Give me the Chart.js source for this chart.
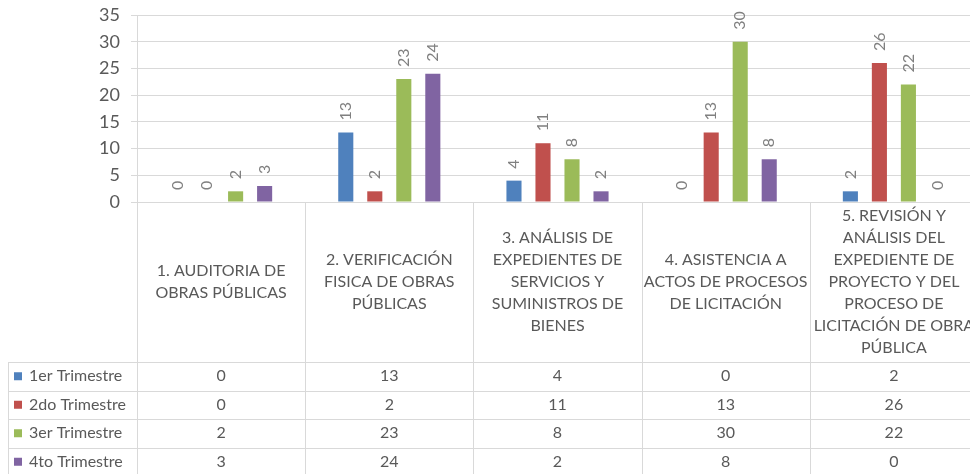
<!DOCTYPE html>
<html>
<head>
<meta charset="utf-8">
<script src="https://cdn.jsdelivr.net/npm/chart.js@4.4.1/dist/chart.umd.min.js"></script>
<style>
  html, body { margin: 0; padding: 0; background: #fff; overflow: hidden; }
  #wrap { position: relative; width: 980px; height: 474px; }
</style>
</head>
<body>
<div id="wrap"><canvas id="chart" width="980" height="474"></canvas></div>
<script>
// categories (wrapped the way the table header shows them)
const categories = [
    ["1. AUDITORIA DE", "OBRAS PÚBLICAS"],
    ["2. VERIFICACIÓN", "FISICA DE OBRAS", "PÚBLICAS"],
    ["3. ANÁLISIS DE", "EXPEDIENTES DE", "SERVICIOS Y", "SUMINISTROS DE", "BIENES"],
    ["4. ASISTENCIA A", "ACTOS DE PROCESOS", "DE LICITACIÓN"],
    ["5. REVISIÓN Y", "ANÁLISIS DEL", "EXPEDIENTE DE", "PROYECTO Y DEL", "PROCESO DE", "LICITACIÓN DE OBRA", "PÚBLICA"]
];

const seriesNames = ["1er Trimestre", "2do Trimestre", "3er Trimestre", "4to Trimestre"];
const trimestre1 = [0, 13, 4, 0, 2];
const trimestre2 = [0, 2, 11, 13, 26];
const trimestre3 = [2, 23, 8, 30, 22];
const trimestre4 = [3, 24, 2, 8, 0];
const seriesColors = ["#4F81BD", "#C0504D", "#9BBB59", "#8064A2"];

const yMax = 35;
const yStep = 5;

const FONT = "Lato, 'Open Sans', sans-serif";
const FONT_SIZE = 16;
const GRID = "#D9D9D9";

// value labels, rotated, above each bar
const barLabels = {
    id: "barLabels",
    afterDatasetsDraw(chart) {
        const ctx = chart.ctx;
        ctx.save();
        ctx.font = FONT_SIZE + "px " + FONT;
        ctx.fillStyle = "#808080";
        ctx.textAlign = "left";
        ctx.textBaseline = "middle";
        chart.data.datasets.forEach((ds, i) => {
            chart.getDatasetMeta(i).data.forEach((bar, j) => {
                ctx.save();
                ctx.translate(bar.x, bar.y - 12);
                ctx.rotate(-Math.PI / 2);
                ctx.fillText(String(ds.data[j]), 0, 0);
                ctx.restore();
            });
        });
        ctx.restore();
    }
};

// Excel-style data table under the plot
const dataTable = {
    id: "dataTable",
    afterDraw(chart) {
        const ctx = chart.ctx;
        const xs = chart.scales.x;
        const area = chart.chartArea;
        const colW = (area.right - area.left) / categories.length;
        const top = area.bottom;
        const headBottom = 362;
        const rowH = 28.5;
        const legendLeft = 8;
        const nRows = chart.data.datasets.length;
        const bottom = headBottom + rowH * nRows;

        ctx.save();
        ctx.strokeStyle = GRID;
        ctx.lineWidth = 1;
        ctx.beginPath();
        // vertical lines
        for (let i = 0; i <= categories.length; i++) {
            const x = Math.round(area.left + i * colW) + 0.5;
            ctx.moveTo(x, top);
            ctx.lineTo(x, bottom);
        }
        ctx.moveTo(legendLeft + 0.5, headBottom);
        ctx.lineTo(legendLeft + 0.5, bottom);
        // horizontal lines
        for (let r = 0; r <= nRows; r++) {
            const y = Math.round(headBottom + r * rowH) + 0.5;
            ctx.moveTo(legendLeft, y);
            ctx.lineTo(area.right, y);
        }
        ctx.stroke();

        ctx.font = FONT_SIZE + "px " + FONT;
        ctx.fillStyle = "#595959";
        ctx.textAlign = "center";
        ctx.textBaseline = "middle";

        // header labels
        const lineH = 22;
        const midHead = (top + headBottom) / 2;
        categories.forEach((lines, i) => {
            const cx = xs.getPixelForValue(i);
            const y0 = midHead - (lines.length - 1) * lineH / 2;
            lines.forEach((t, k) => ctx.fillText(t, cx, y0 + k * lineH));
        });

        // rows
        chart.data.datasets.forEach((ds, r) => {
            const cy = headBottom + rowH * r + rowH / 2;
            ctx.fillStyle = ds.backgroundColor;
            ctx.fillRect(14, cy - 4, 8, 8);
            ctx.fillStyle = "#595959";
            ctx.textAlign = "left";
            ctx.fillText(ds.label, 29, cy);
            ctx.textAlign = "center";
            ds.data.forEach((v, j) => ctx.fillText(String(v), xs.getPixelForValue(j), cy));
        });
        ctx.restore();
    }
};

const seriesData = [trimestre1, trimestre2, trimestre3, trimestre4];

new Chart(document.getElementById("chart"), {
    type: "bar",
    data: {
        labels: categories,
        datasets: seriesNames.map((name, i) => ({
            label: name,
            data: seriesData[i],
            backgroundColor: seriesColors[i],
            borderWidth: 0,
            categoryPercentage: 0.69,
            barPercentage: 0.52
        }))
    },
    options: {
        responsive: false,
        animation: false,
        devicePixelRatio: 1,
        layout: { padding: { top: 15, right: 2, bottom: 272, left: 0 } },
        plugins: {
            legend: { display: false },
            tooltip: { enabled: false }
        },
        scales: {
            x: {
                display: false,
                offset: true
            },
            y: {
                min: 0,
                max: yMax,
                afterFit(scale) {
                    scale.width = 137;
                    scale.paddingTop = 0;
                    scale.paddingBottom = 0;
                },
                ticks: {
                    stepSize: yStep,
                    padding: 11,
                    color: "#595959",
                    font: { family: FONT, size: FONT_SIZE + 2 }
                },
                grid: {
                    color: GRID,
                    lineWidth: 1,
                    tickLength: 6
                },
                border: { color: GRID }
            }
        }
    },
    plugins: [barLabels, dataTable]
});
</script>
</body>
</html>
